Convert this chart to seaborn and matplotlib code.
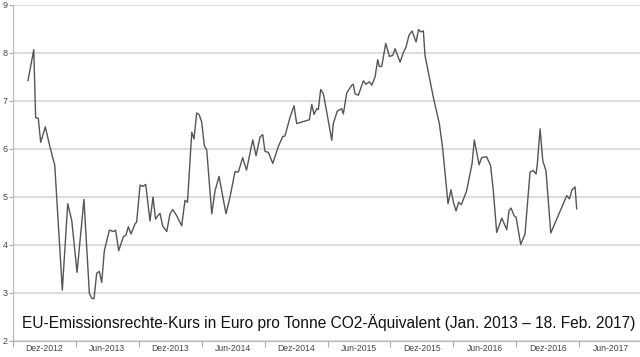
import matplotlib
matplotlib.use("Agg")
import matplotlib.pyplot as plt
import seaborn as sns
import pandas as pd
import numpy as np

# decimal-year positions
jahr = [2013.036, 2013.082, 2013.097, 2013.118, 2013.137, 2013.174, 2013.211, 2013.249,
        2013.309, 2013.352, 2013.384, 2013.426, 2013.481, 2013.524, 2013.543, 2013.561,
        2013.582, 2013.603, 2013.622, 2013.643, 2013.683, 2013.714, 2013.733, 2013.757,
        2013.794, 2013.815, 2013.834, 2013.855, 2013.887, 2013.900, 2013.927, 2013.948,
        2013.972, 2014.006, 2014.030, 2014.050, 2014.066, 2014.086, 2014.106, 2014.139,
        2014.165, 2014.187, 2014.218, 2014.258, 2014.284, 2014.304, 2014.338, 2014.356,
        2014.377, 2014.396, 2014.417, 2014.438, 2014.457, 2014.497, 2014.523, 2014.555,
        2014.610, 2014.642, 2014.682, 2014.708, 2014.743, 2014.773, 2014.823, 2014.849,
        2014.881, 2014.902, 2014.920, 2014.947, 2014.982, 2015.026, 2015.061, 2015.079,
        2015.119, 2015.151, 2015.172, 2015.273, 2015.292, 2015.310, 2015.331, 2015.344,
        2015.363, 2015.384, 2015.411, 2015.451, 2015.463, 2015.495, 2015.530, 2015.543,
        2015.570, 2015.610, 2015.622, 2015.636, 2015.662, 2015.702, 2015.723, 2015.750,
        2015.769, 2015.795, 2015.816, 2015.829, 2015.848, 2015.880, 2015.909, 2015.936,
        2015.954, 2015.994, 2016.020, 2016.041, 2016.065, 2016.089, 2016.121, 2016.141,
        2016.158, 2016.179, 2016.192, 2016.258, 2016.306, 2016.333, 2016.375, 2016.399,
        2016.417, 2016.439, 2016.459, 2016.481, 2016.522, 2016.566, 2016.584, 2016.622,
        2016.642, 2016.681, 2016.713, 2016.735, 2016.762, 2016.802, 2016.842, 2016.860,
        2016.876, 2016.900, 2016.916, 2016.953, 2016.987, 2017.027, 2017.053, 2017.075,
        2017.085, 2017.107, 2017.128, 2017.154, 2017.192, 2017.319, 2017.340, 2017.361,
        2017.385, 2017.398]

kurs = [7.42, 8.07, 6.65, 6.64, 6.14, 6.46, 6.04, 5.66,
        3.06, 4.86, 4.51, 3.43, 4.95, 2.99, 2.89, 2.88,
        3.41, 3.45, 3.22, 3.88, 4.31, 4.28, 4.31, 3.88,
        4.17, 4.21, 4.38, 4.23, 4.44, 4.48, 5.25, 5.22,
        5.26, 4.50, 5.00, 4.54, 4.60, 4.66, 4.40, 4.28,
        4.65, 4.74, 4.61, 4.40, 4.93, 4.89, 6.35, 6.21,
        6.75, 6.72, 6.56, 6.07, 5.98, 4.65, 5.13, 5.43,
        4.65, 5.00, 5.53, 5.52, 5.82, 5.56, 6.19, 5.86,
        6.25, 6.30, 5.95, 5.93, 5.70, 6.05, 6.26, 6.27,
        6.66, 6.90, 6.53, 6.61, 6.93, 6.72, 6.84, 6.82,
        7.24, 7.15, 6.77, 6.18, 6.53, 6.79, 6.84, 6.73,
        7.17, 7.33, 7.35, 7.15, 7.12, 7.42, 7.35, 7.40,
        7.33, 7.50, 7.86, 7.72, 7.72, 8.20, 7.93, 7.95,
        8.09, 7.81, 8.01, 8.12, 8.37, 8.46, 8.23, 8.49,
        8.44, 8.46, 7.95, 7.08, 6.53, 6.00, 4.86, 5.15,
        4.90, 4.71, 4.89, 4.84, 5.12, 5.69, 6.19, 5.67,
        5.82, 5.84, 5.66, 5.13, 4.26, 4.56, 4.32, 4.72,
        4.77, 4.61, 4.58, 4.01, 4.23, 5.52, 5.55, 5.48,
        5.69, 6.42, 5.76, 5.54, 4.25, 5.03, 4.96, 5.15,
        5.21, 4.75]

x_tick_labels = ["Dez-2012", "Jun-2013", "Dez-2013", "Jun-2014", "Dez-2014",
                 "Jun-2015", "Dez-2015", "Jun-2016", "Dez-2016", "Jun-2017"]
y_ticks = [2, 3, 4, 5, 6, 7, 8, 9]
titel = "EU-Emissionsrechte-Kurs in Euro pro Tonne CO2-Äquivalent (Jan. 2013 – 18. Feb. 2017)"

sns.set_style("white")
plt.rcParams["font.family"] = ["Liberation Sans", "DejaVu Sans"]

df = pd.DataFrame({"jahr": jahr, "kurs": kurs})

fig = plt.figure(figsize=(6.4, 3.57), dpi=100)
ax = fig.add_axes([13/640, 16/357, 1 - 13/640, (341 - 5)/357])

sns.lineplot(data=df, x="jahr", y="kurs", ax=ax, color="#555555", linewidth=1.0, sort=False)

x0 = 2012.917
ax.set_xlim(x0, x0 + 627 * 0.5 / 62.9)
ax.set_ylim(2, 9)

tick_pos = [x0 + 0.5 * k for k in range(len(x_tick_labels))]
lab_pos = [p + 0.25 for p in tick_pos]
ax.set_xticks(tick_pos)
ax.set_xticklabels([""] * len(tick_pos))
ax.set_xticks(lab_pos, minor=True)
ax.set_xticklabels(x_tick_labels, minor=True)
ax.tick_params(axis="x", which="major", length=4, width=0.8, color="#aaaaaa", bottom=True)
ax.tick_params(axis="x", which="minor", length=0, labelsize=6.2, labelcolor="#444444", pad=2)

ax.set_yticks(y_ticks)
ax.set_yticklabels([str(v) for v in y_ticks])
ax.tick_params(axis="y", length=3, width=0.8, color="#aaaaaa", left=True,
               labelsize=6.5, labelcolor="#444444", pad=1)

ax.yaxis.grid(True, color="#d9d9d9", linewidth=1.3)
ax.xaxis.grid(False)
ax.set_axisbelow(True)
for s in ["top", "right"]:
    ax.spines[s].set_visible(False)
ax.spines["left"].set_color("#bbbbbb")
ax.spines["bottom"].set_color("#bbbbbb")
ax.spines["left"].set_linewidth(0.9)
ax.spines["bottom"].set_linewidth(0.9)
ax.set_xlabel("")
ax.set_ylabel("")

fig.text(22/640, 1 - 323/357, titel, fontsize=11.2, color="#111111", ha="left", va="center")

fig.savefig("out.png", dpi=100)
